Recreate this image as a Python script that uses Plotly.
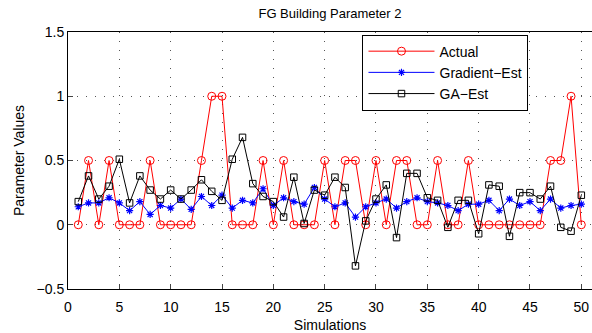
import plotly.graph_objects as go

sims = list(range(1, 51))
actual = [0, 0.5, 0, 0.5, 0, 0, 0, 0.5, 0, 0, 0, 0, 0.5, 1, 1, 0, 0, 0, 0.5, 0,
          0.5, 0, 0, 0, 0.5, 0, 0.5, 0.5, 0, 0.5, 0, 0.5, 0.5, 0, 0, 0.5, 0, 0, 0.5, 0,
          0, 0, 0, 0, 0, 0, 0.5, 0.5, 1, 0]
gradient_est = [0.14, 0.17, 0.17, 0.21, 0.17, 0.11, 0.18, 0.08, 0.15, 0.13,
                0.20, 0.12, 0.22, 0.15, 0.23, 0.13, 0.19, 0.17, 0.28, 0.15,
                0.21, 0.18, 0.16, 0.29, 0.20, 0.14, 0.17, 0.06, 0.14, 0.17,
                0.20, 0.13, 0.18, 0.21, 0.18, 0.17, 0.15, 0.11, 0.16, 0.16,
                0.19, 0.11, 0.20, 0.15, 0.18, 0.11, 0.20, 0.13, 0.15, 0.16]
ga_est = [0.18, 0.38, 0.20, 0.30, 0.51, 0.17, 0.38, 0.27, 0.20, 0.27,
          0.20, 0.27, 0.35, 0.26, 0.19, 0.51, 0.68, 0.32, 0.22, 0.18,
          0.06, 0.37, 0.01, 0.27, 0.23, 0.37, 0.29, -0.32, 0.03, 0.20,
          0.31, -0.10, 0.40, 0.40, 0.21, 0.19, -0.02, 0.19, 0.19, -0.07,
          0.31, 0.30, -0.09, 0.25, 0.25, 0.20, 0.30, -0.02, -0.05, 0.23]

x_ticks = [0, 5, 10, 15, 20, 25, 30, 35, 40, 45, 50]
y_ticks = [-0.5, 0, 0.5, 1, 1.5]
y_tick_text = ["\u22120.5", "0", "0.5", "1", "1.5"]

FONT = "Liberation Sans, Arial, Helvetica, sans-serif"

fig = go.Figure()
fig.add_trace(go.Scatter(x=sims, y=actual, name="Actual", mode="lines+markers",
                         line=dict(color="#ff0000", width=1),
                         marker=dict(symbol="circle-open", size=8, color="#ff0000",
                                     line=dict(width=1, color="#ff0000"))))
fig.add_trace(go.Scatter(x=sims, y=gradient_est, name="Gradient\u2212Est", mode="lines+markers",
                         line=dict(color="#0000ff", width=1),
                         marker=dict(symbol="asterisk-open", size=6, color="#0000ff",
                                     line=dict(width=1.2, color="#0000ff"))))
fig.add_trace(go.Scatter(x=sims, y=ga_est, name="GA\u2212Est", mode="lines+markers",
                         line=dict(color="#000000", width=1),
                         marker=dict(symbol="square-open", size=6.5, color="#000000",
                                     line=dict(width=1, color="#000000"))))

fig.update_layout(
    width=592, height=333,
    margin=dict(l=68, r=0, t=32, b=44, autoexpand=False),
    paper_bgcolor="white", plot_bgcolor="white",
    font=dict(family=FONT, size=13, color="black"),
    title=dict(text="FG Building Parameter 2", x=0.5, xanchor="center",
               xref="paper", y=1 - 13 / 333, yref="container", yanchor="middle",
               font=dict(size=13)),
    showlegend=True,
    legend=dict(x=0.562, y=0.99, xanchor="left", yanchor="top",
                bordercolor="black", borderwidth=1, bgcolor="white",
                font=dict(size=14), tracegroupgap=0, itemwidth=66),
)
fig.update_xaxes(range=[0, 51.04], tickvals=x_ticks, ticks="inside", ticklen=5,
                 showline=True, linecolor="black", linewidth=1, mirror=True,
                 showgrid=True, gridcolor="#555555", griddash="1px,8px", gridwidth=1,
                 zeroline=False, automargin=False, ticklabelstandoff=5,
                 title=dict(text="Simulations", standoff=7, font=dict(size=14)),
                 tickfont=dict(size=14))
fig.update_yaxes(range=[-0.5, 1.5], tickvals=y_ticks, ticktext=y_tick_text,
                 ticks="inside", ticklen=5,
                 showline=True, linecolor="black", linewidth=1, mirror=False,
                 showgrid=True, gridcolor="#555555", griddash="1px,8px", gridwidth=1,
                 zeroline=False, automargin=False,
                 title=dict(text="Parameter Values", standoff=8, font=dict(size=14)),
                 tickfont=dict(size=14))

fig.write_html("out.html", config={"displayModeBar": False},
               post_script="document.body.style.margin='0';document.body.style.padding='0';")
